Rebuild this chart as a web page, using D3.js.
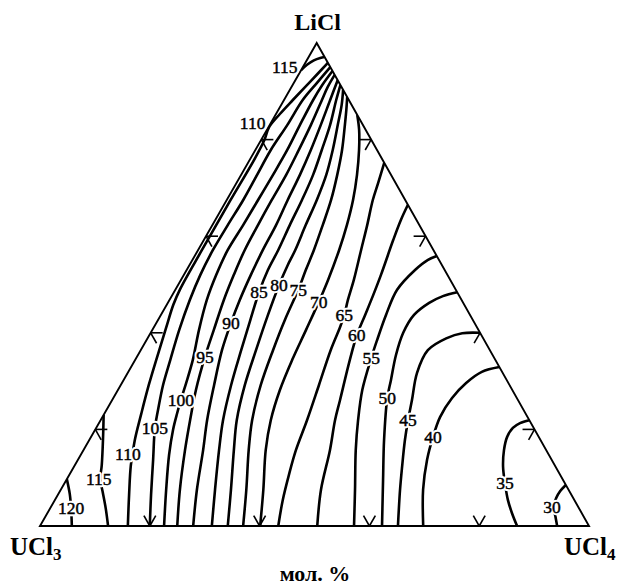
<!DOCTYPE html>
<html>
<head>
<meta charset="utf-8">
<script src="https://cdn.jsdelivr.net/npm/d3@7"></script>
<style>
  body { margin: 0; background: #fff; }
  text { font-family: "Liberation Serif", "Times New Roman", serif; fill: #000; }
</style>
</head>
<body>
<svg id="chart" width="618" height="588"></svg>
<script>
// LiCl–UCl3–UCl4 isotherms. Every point is a composition [LiCl %, UCl4 %];
// UCl3 makes up the remainder.
const iso120 = [[9.7,0],[6.6,2.1],[3.7,3.8],[0,5.8]];
const iso115 = [[23.0,0],[17.8,2.5],[12.6,4.9],[9.7,6.1],[7.0,7.9],[3.7,10.1],[0,12.4]];
const iso115top = [[94.4,0],[95.5,0.5],[96.4,1.3],[96.9,2.2],[97.1,2.9]];
const iso110 = [[0,16.0],[6.4,13.0],[12.6,10.2],[17.8,8.3],[23.0,6.8],[29.2,5.1],[35.4,3.6],
  [41.0,2.3],[45.8,1.2],[49.1,0.8],[57.1,0.7],[67.5,0.7],[75.8,0.8],[79.9,0.6],[82.6,0.1],
  [85.3,0.7],[88.2,1.6],[92.1,2.9],[95.9,4.1]];
const iso105 = [[0,20.0],[6.4,17.0],[13.7,13.7],[20.3,10.7],[24.0,9.4],[29.2,7.7],[34.4,6.4],
  [40.6,4.9],[46.8,3.7],[52.0,3.0],[57.1,2.7],[62.3,2.8],[67.5,3.0],[72.7,2.9],[77.8,2.8],
  [83.0,3.2],[88.2,3.4],[91.7,4.2],[95.0,5.0]];
const iso100 = [[0,22.6],[7.5,19.2],[14.7,16.1],[19.9,14.2],[23.4,13.2],[26.1,12.5],[29.6,11.7],
  [34.4,10.5],[40.6,8.5],[46.8,6.8],[52.0,5.9],[57.1,5.4],[62.3,5.6],[67.5,5.7],[72.7,5.8],
  [77.8,5.8],[83.0,5.5],[88.2,5.3],[91.3,5.4],[94.2,5.8]];
const iso95 = [[0,25.0],[7.5,21.7],[15.7,18.5],[21.9,16.3],[28.2,14.2],[35.0,12.4],[40.6,11.2],
  [46.8,9.9],[52.0,9.1],[57.1,8.5],[62.3,8.3],[67.5,8.2],[72.7,8.2],[77.8,7.9],[83.0,7.5],
  [88.2,6.9],[90.9,6.6],[93.4,6.6]];
const iso90 = [[0,27.9],[7.5,24.8],[15.7,21.8],[21.9,19.4],[29.2,17.0],[36.4,14.8],[42.0,13.6],
  [46.8,12.8],[52.0,12.2],[57.1,11.8],[62.3,11.6],[67.5,11.1],[72.7,10.7],[77.8,10.1],
  [83.0,9.3],[88.2,8.4],[92.3,7.7]];
const iso85 = [[0,31.3],[7.5,28.1],[15.7,24.7],[21.9,22.3],[29.2,20.1],[36.4,18.3],[42.7,16.8],
  [48.4,15.5],[53.0,14.8],[57.1,14.6],[62.3,14.1],[67.5,13.7],[72.7,13.1],[77.8,12.1],
  [83.0,11.0],[88.2,9.5],[91.3,8.7]];
const iso80 = [[0,34.2],[7.5,31.0],[15.7,27.4],[21.9,24.8],[29.2,22.6],[36.4,21.0],[43.7,19.5],
  [49.9,18.4],[54.0,17.9],[57.1,17.7],[62.3,17.0],[67.5,16.4],[72.7,15.5],[77.8,14.1],
  [83.0,12.4],[87.2,11.0],[90.3,9.7]];
const iso75 = [[0,37.0],[7.5,33.8],[15.7,30.1],[21.9,27.6],[29.2,25.5],[36.4,24.1],[42.7,23.1],
  [48.9,22.4],[53.0,21.7],[57.1,21.1],[62.3,20.1],[67.5,19.0],[72.7,17.5],[77.8,15.8],
  [83.0,13.7],[86.1,12.4],[88.8,11.2]];
const iso70 = [[0,40.1],[7.5,36.9],[15.7,33.2],[21.9,31.0],[28.2,29.5],[34.4,28.6],[40.6,28.0],
  [46.4,27.4],[50.9,26.8],[57.1,25.7],[62.3,24.5],[67.5,23.0],[72.7,21.1],[77.8,18.9],
  [82.0,16.8],[85.1,14.9]];
const iso65 = [[0,43.4],[5.4,41.5],[10.6,40.0],[15.7,38.7],[21.9,37.6],[29.2,36.1],[36.4,34.6],
  [41.2,33.9],[43.7,33.4],[46.8,32.5],[50.9,31.5],[57.1,29.7],[62.3,28.2],[67.5,26.6],
  [71.0,25.8],[75.2,24.8]];
const iso60 = [[0,50.5],[7.5,47.4],[15.7,44.9],[21.9,42.7],[26.1,41.5],[34.4,39.1],[39.5,37.8],
  [43.7,37.2],[47.8,36.6],[52.0,35.9],[59.2,34.5],[63.4,33.8],[66.5,33.5]];
const iso55 = [[0,57.2],[7.5,53.6],[15.7,49.6],[21.9,46.9],[28.2,44.5],[34.8,42.8],[38.5,42.0],
  [43.7,41.0],[48.9,40.4],[53.0,41.6],[55.1,42.9],[55.9,44.1]];
const iso50 = [[0,62.3],[9.5,57.7],[17.8,53.7],[26.5,49.9],[30.2,48.7],[35.4,47.0],[40.0,46.0],
  [43.7,46.1],[46.2,47.6],[47.6,49.4],[48.4,51.6]];
const iso45 = [[0,65.2],[7.5,61.8],[12.2,59.8],[17.8,57.5],[21.9,56.0],[26.1,54.6],[31.7,52.7],
  [36.4,52.3],[38.9,54.5],[39.9,56.8],[40.0,60.0]];
const iso40 = [[0,69.8],[7.5,66.0],[13.7,63.6],[18.4,62.3],[22.6,61.5],[26.5,61.7],[29.6,62.7],
  [31.9,64.4],[32.9,67.1]];
const iso35 = [[21.9,78.1],[21.3,76.7],[20.3,75.9],[18.4,75.8],[15.7,76.6],[12.2,78.2],[8.9,80.2],
  [5.4,82.5],[2.7,84.6],[0,86.9]];
const iso30 = [[8.5,91.5],[7.2,91.1],[5.8,91.1],[3.9,91.6],[2.1,92.8],[0,94.2]];

const isotherms = [iso120, iso115, iso115top, iso110, iso105, iso100, iso95, iso90, iso85,
  iso80, iso75, iso70, iso65, iso60, iso55, iso50, iso45, iso40, iso35, iso30];

// Temperature captions and where they sit, [value, LiCl %, UCl4 %]
const isoLabels = [
  [120, 3.7, 3.8], [115, 9.7, 5.8], [110, 14.9, 8.5], [105, 20.3, 10.7], [100, 26.1, 12.5],
  [95, 35.0, 12.4], [90, 42.0, 13.6], [85, 48.4, 15.5], [80, 49.9, 18.4], [75, 48.9, 22.4],
  [70, 46.4, 27.4], [65, 43.7, 33.4], [60, 39.5, 37.8], [55, 34.8, 42.8], [50, 26.5, 49.9],
  [45, 21.9, 56.0], [40, 18.4, 62.3], [35, 8.9, 80.2], [30, 3.9, 91.3],
  [115, 95.0, -3.3], [110, 83.4, -3.3]
];

// Grid marks every 20 mol. % on each side
const gridShares = [20, 40, 60, 80];

const svg = d3.select("#chart");

// Composition -> screen: UCl4 runs along the base, LiCl rises to the apex
const xU = d3.scaleLinear().domain([0, 100]).range([40, 589]);
const xLi = d3.scaleLinear().domain([0, 100]).range([0, 276.7]);
const yLi = d3.scaleLinear().domain([0, 100]).range([526, 43]);
const toXY = ([li, u4]) => [xU(u4) + xLi(li), yLi(li)];

const cUCl3 = toXY([0, 0]), cUCl4 = toXY([0, 100]), cLiCl = toXY([100, 0]);
const frame = "M" + [cUCl3, cUCl4, cLiCl].map(p => p.join(",")).join("L") + "Z";

svg.append("defs").append("clipPath").attr("id", "tri")
  .append("path").attr("d", frame);

const line = d3.line().x(d => toXY(d)[0]).y(d => toXY(d)[1])
  .curve(d3.curveCatmullRom.alpha(0.5));

svg.append("g").attr("clip-path", "url(#tri)")
  .selectAll("path").data(isotherms).join("path")
  .attr("d", line)
  .attr("fill", "none").attr("stroke", "#000").attr("stroke-width", 2.6)
  .attr("stroke-linejoin", "round");

// Triangle frame
svg.append("path").attr("d", frame)
  .attr("fill", "none").attr("stroke", "#000").attr("stroke-width", 1.9)
  .attr("stroke-linejoin", "miter");

// Side marks: two short strokes along the grid directions
const markLen = 12;
const unit = (a, b) => { const dx = b[0]-a[0], dy = b[1]-a[1], L = Math.hypot(dx, dy); return [dx/L, dy/L]; };
const dirBaseL = unit(cUCl3, cLiCl), dirBaseR = unit(cUCl4, cLiCl);
const dirRight = unit(cLiCl, cUCl4), dirLeft = unit(cLiCl, cUCl3);
const marks = [];
gridShares.forEach(s => {
  const pb = toXY([0, s]);            // base
  marks.push([pb, dirBaseL], [pb, dirBaseR]);
  const pl = toXY([s, 0]);            // UCl3–LiCl side
  marks.push([pl, [1, 0]], [pl, dirRight]);
  const pr = toXY([s, 100 - s]);      // UCl4–LiCl side
  marks.push([pr, [-1, 0]], [pr, dirLeft]);
});
svg.append("g").selectAll("line").data(marks).join("line")
  .attr("x1", d => d[0][0]).attr("y1", d => d[0][1])
  .attr("x2", d => d[0][0] + d[1][0] * markLen).attr("y2", d => d[0][1] + d[1][1] * markLen)
  .attr("stroke", "#000").attr("stroke-width", 1.6);

// Isotherm captions: a white knock-out under each, then the figures themselves
const placeLabel = sel => sel
  .attr("x", d => toXY([d[1], d[2]])[0])
  .attr("y", d => toXY([d[1], d[2]])[1])
  .attr("dy", "0.35em")
  .attr("text-anchor", "middle")
  .attr("font-size", 17.5)
  .text(d => d[0]);

svg.append("g").selectAll("text").data(isoLabels).join("text").call(placeLabel)
  .attr("fill", "#fff").attr("stroke", "#fff").attr("stroke-width", 4.5)
  .attr("stroke-linejoin", "round");
svg.append("g").selectAll("text").data(isoLabels).join("text").call(placeLabel)
  .attr("stroke", "#000").attr("stroke-width", 0.45);

// Component names
svg.append("text").attr("x", cLiCl[0] + 1).attr("y", cLiCl[1] - 13)
  .attr("text-anchor", "middle").attr("font-size", 24).attr("font-weight", "bold").text("LiCl");

const left = svg.append("text").attr("x", 10).attr("y", 555)
  .attr("font-size", 25).attr("font-weight", "bold");
left.append("tspan").text("UCl");
left.append("tspan").attr("font-size", 17).attr("dy", 5).text("3");

const right = svg.append("text").attr("x", 564).attr("y", 555)
  .attr("font-size", 25).attr("font-weight", "bold");
right.append("tspan").text("UCl");
right.append("tspan").attr("font-size", 17).attr("dy", 5).text("4");

svg.append("text").attr("x", 315).attr("y", 581)
  .attr("text-anchor", "middle").attr("font-size", 22).attr("font-weight", "bold").text("мол. %");
</script>
</body>
</html>
